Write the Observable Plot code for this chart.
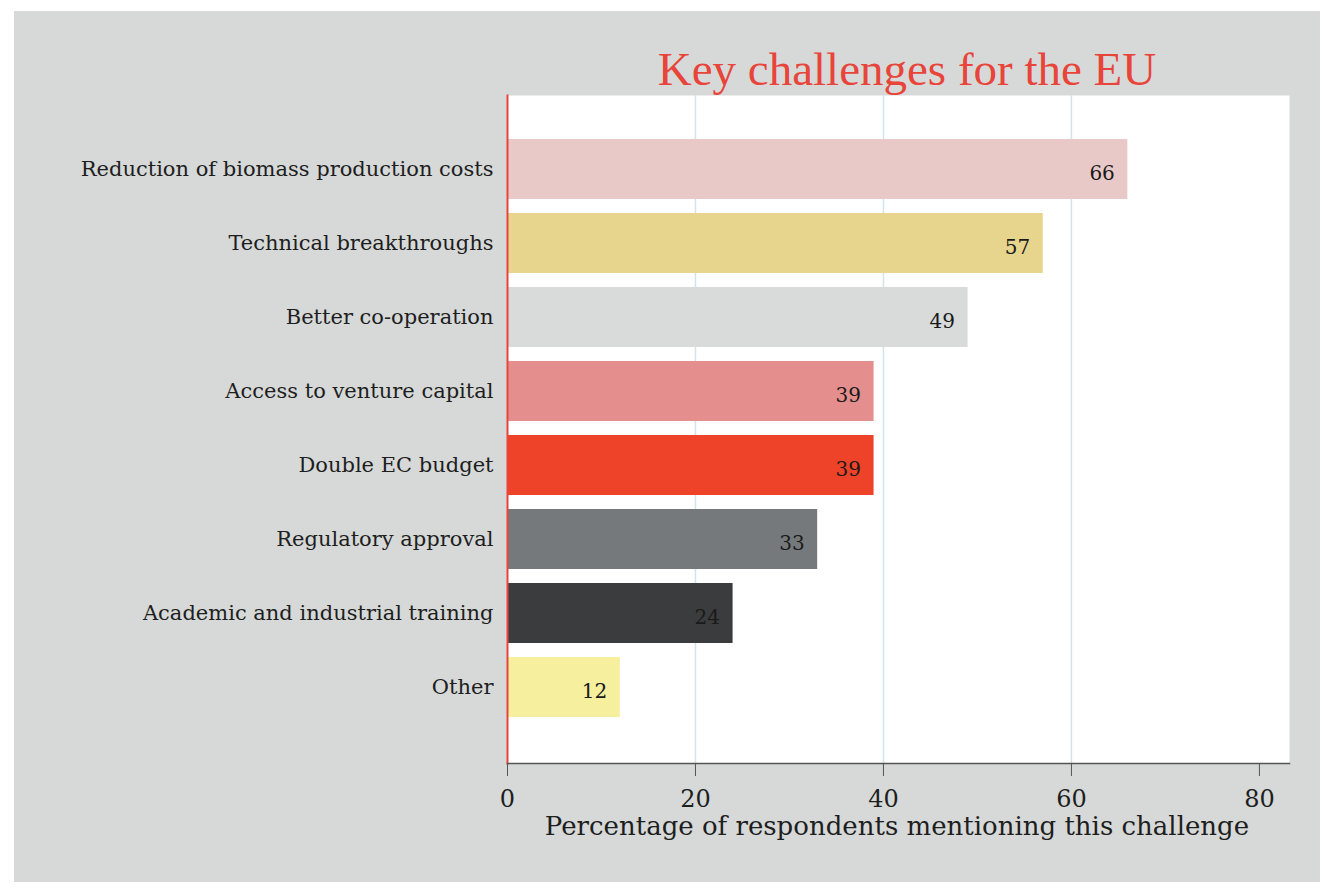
<!DOCTYPE html>
<html><head><meta charset="utf-8">
<script src="https://cdn.jsdelivr.net/npm/d3@7"></script>
<script src="https://cdn.jsdelivr.net/npm/@observablehq/plot@0.6"></script>
<style>
html,body{margin:0;padding:0;background:#fff;width:1335px;height:895px;overflow:hidden}
#bg{position:absolute;left:14px;top:11px;width:1306px;height:871px;background:#d6d9d8}
#title{position:absolute;left:507px;width:800px;top:46px;line-height:46px;text-align:center;font-family:"Liberation Serif",serif;font-size:47px;color:#e8443a;white-space:nowrap}
#chart{position:absolute;left:0;top:0}
#xlabel{position:absolute;left:497px;width:800px;top:811px;line-height:30px;text-align:center;font-family:"DejaVu Serif",serif;font-size:26px;color:#1e1e1e;white-space:nowrap}
</style></head>
<body>
<div id="bg"></div>
<div id="chart"></div>
<div id="title">Key challenges for the EU</div>
<div id="xlabel">Percentage of respondents mentioning this challenge</div>
<script>
const categories = ["Reduction of biomass production costs","Technical breakthroughs","Better co-operation","Access to venture capital","Double EC budget","Regulatory approval","Academic and industrial training","Other"];
const values = [66, 57, 49, 39, 39, 33, 24, 12];
const colors = ["#e8c9c8","#e8d58d","#d8dbda","#e48f8d","#ee4229","#76797b","#3a3c3e","#f5ef9e"];
const xTicks = [0, 20, 40, 60, 80];
const gridTicks = [20, 40, 60];

const data = categories.map((c, i) => ({category: c, value: values[i], color: colors[i]}));

const plot = Plot.plot({
  width: 1335,
  height: 895,
  marginLeft: 507,
  marginRight: 46,
  marginTop: 95,
  marginBottom: 132,
  style: {background: "transparent", fontFamily: "DejaVu Serif, serif", color: "#1e1e1e"},
  x: {domain: [0, 83.2], ticks: xTicks},
  y: {domain: categories, padding: 0.19, insetTop: 28, insetBottom: 30},
  marks: [
    Plot.frame({fill: "white", stroke: null}),
    Plot.gridX(gridTicks, {stroke: "#d3e3e7", strokeOpacity: 1, strokeWidth: 1.5}),
    Plot.barX(data, {y: "category", x: "value", fill: "color"}),
    Plot.text(data, {y: "category", x: "value", text: d => String(d.value), textAnchor: "end", dx: -13, dy: 4, fontSize: 20, fill: "#1a1a1a"}),
    Plot.frame({anchor: "left", stroke: "#e8443a", strokeWidth: 2}),
    Plot.frame({anchor: "bottom", stroke: "#555", strokeWidth: 1.5}),
    Plot.axisX(xTicks, {label: null, tickSize: 13, tickPadding: 13, fontSize: 24, stroke: "#555", fill: "#1e1e1e"}),
    Plot.axisY({label: null, tickSize: 0, tickPadding: 14, fontSize: 21, fill: "#1e1e1e"})
  ]
});
document.getElementById("chart").appendChild(plot);
</script>
</body></html>
